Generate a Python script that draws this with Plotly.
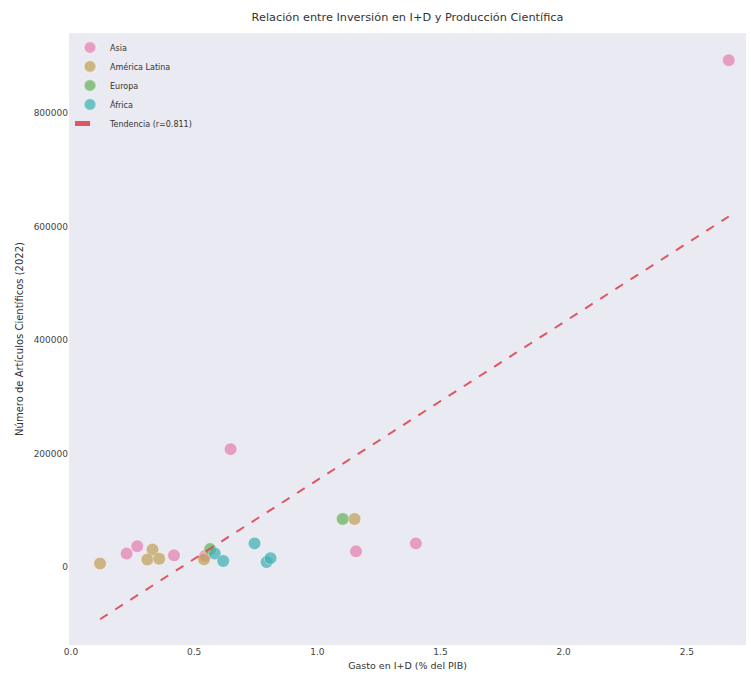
import numpy as np
import plotly.graph_objects as go

# Data (x: R&D spend % of GDP, y: scientific articles 2022)
regions = ["Asia", "América Latina", "Europa", "África"]
asia_x = [0.648, 0.226, 0.269, 0.418, 0.545, 1.157, 1.40, 2.67]
asia_y = [208000, 24000, 37000, 21000, 20000, 28000, 42000, 893000]
latam_x = [0.118, 0.331, 0.31, 0.358, 0.54, 1.151]
latam_y = [6500, 31000, 13500, 15000, 14000, 85000]
europa_x = [1.103, 0.565]
europa_y = [85000, 32000]
africa_x = [0.584, 0.618, 0.745, 0.794, 0.81]
africa_y = [24000, 11000, 42000, 9000, 16000]
trend_label = "Tendencia (r=0.811)"

xs = [asia_x, latam_x, europa_x, africa_x]
ys = [asia_y, latam_y, europa_y, africa_y]
colors = ["rgba(228,128,176,0.72)", "rgba(192,160,88,0.72)",
          "rgba(104,178,92,0.72)", "rgba(64,176,178,0.72)"]

x_ticks = [0.0, 0.5, 1.0, 1.5, 2.0, 2.5]
y_ticks = [0, 200000, 400000, 600000, 800000]

fig = go.Figure()
for name, x, y, c in zip(regions, xs, ys, colors):
    fig.add_trace(go.Scatter(
        x=x, y=y, mode="markers", name=name,
        marker=dict(size=12.5, color=c, line=dict(width=1, color="rgba(255,255,255,0.35)")),
    ))

all_x = np.concatenate([np.array(v) for v in xs])
all_y = np.concatenate([np.array(v) for v in ys])
slope, intercept = np.polyfit(all_x, all_y, 1)
line_x = np.array([all_x.min(), all_x.max()])
fig.add_trace(go.Scatter(
    x=line_x, y=slope * line_x + intercept, mode="lines",
    name=trend_label,
    line=dict(color="rgba(220,60,70,0.85)", width=2, dash="dash"),
))

axis_font = dict(family="DejaVu Sans", size=9, color="#444444")
fig.update_layout(
    width=751, height=679,
    margin=dict(l=69, r=5, t=33, b=34),
    paper_bgcolor="white", plot_bgcolor="#eaeaf2",
    font=dict(family="DejaVu Sans", size=9, color="#333333"),
    title=dict(text="Relación entre Inversión en I+D y Producción Científica",
               x=0.5, xref="paper", y=0.975, yref="container", yanchor="middle",
               font=dict(size=11.3, color="#333333")),
    showlegend=True,
    legend=dict(x=0.0015, y=1.0, xanchor="left", yanchor="top",
                bgcolor="rgba(0,0,0,0)", font=dict(size=8, color="#333333"),
                itemsizing="constant"),
    xaxis=dict(range=[-0.008, 2.74], tickvals=x_ticks, tickformat=".1f",
               showgrid=False, zeroline=False, showline=False, automargin=False,
               tickfont=axis_font, ticks="", ticklen=0,
               title=dict(text="Gasto en I+D (% del PIB)", font=dict(size=9.5, color="#333333"),
                          standoff=6)),
    yaxis=dict(range=[-137000, 941000], tickvals=y_ticks, tickformat="d",
               showgrid=False, zeroline=False, showline=False, automargin=False,
               tickfont=axis_font, ticks="", ticklen=0,
               title=dict(text="Número de Artículos Científicos (2022)",
                          font=dict(size=10, color="#333333"), standoff=8)),
)

fig.write_html("out.html", config={"displayModeBar": False},
               post_script="document.body.style.margin='0';document.body.style.overflow='hidden';")
